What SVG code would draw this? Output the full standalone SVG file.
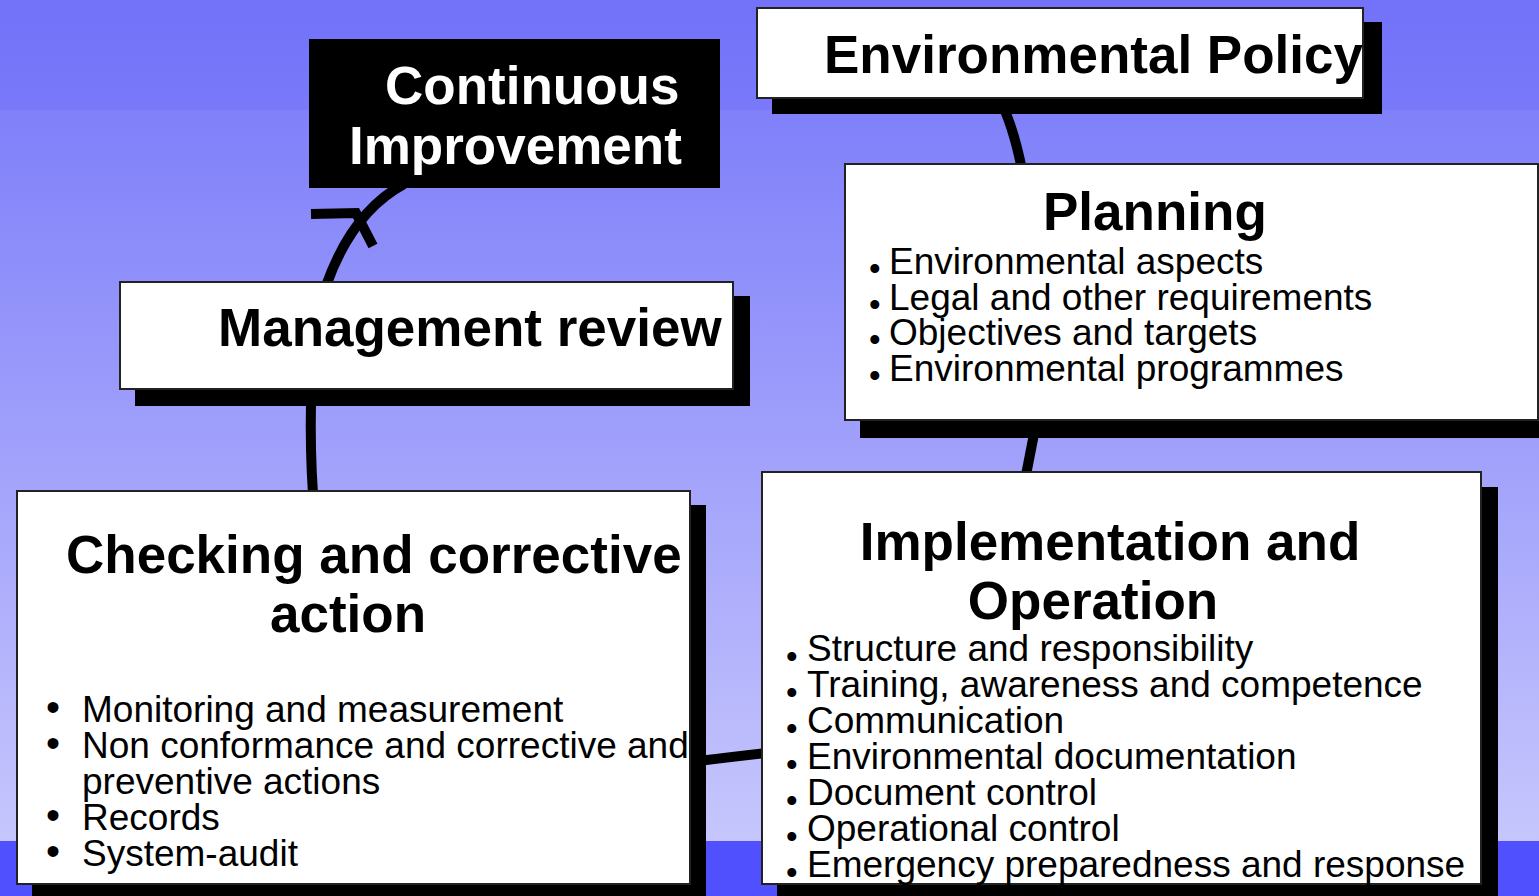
<svg xmlns="http://www.w3.org/2000/svg" width="1539" height="896" viewBox="0 0 1539 896">
<defs>
<linearGradient id="bgTop" x1="0" y1="0" x2="0" y2="1">
<stop offset="0" stop-color="#7272fa"/>
<stop offset="1" stop-color="#7979fa"/>
</linearGradient>
<linearGradient id="bgMain" x1="0" y1="0" x2="0" y2="1">
<stop offset="0" stop-color="#8080fa"/>
<stop offset="1" stop-color="#c6c6fd"/>
</linearGradient>
<style>
.box{fill:#fff;stroke:#222;stroke-width:2}
.shadow{fill:#000}
.title{font-family:"Liberation Sans",Arial,sans-serif;font-weight:bold;font-size:53px;fill:#000}
.wt{fill:#fff}
.item{font-family:"Liberation Sans",Arial,sans-serif;font-size:37px;fill:#000}
.dot{font-size:33px}
.bul{font-size:40px}
.conn{fill:none;stroke:#000;stroke-width:10}
</style>
</defs>
<rect x="0" y="0" width="1539" height="110" fill="url(#bgTop)"/>
<rect x="0" y="110" width="1539" height="731" fill="url(#bgMain)"/>
<rect x="0" y="841" width="1539" height="55" fill="#5050ff"/>

<g id="connectors">
<path class="conn" d="M326 286 Q352 212 404 184"/>
<polyline class="conn" points="311,214 356,213 373,246" stroke-linejoin="miter"/>
<path class="conn" d="M998 96 Q1013 124 1022 170"/>
<path class="conn" d="M1034 434 L1026 475"/>
<path class="conn" d="M698 761 Q730 757 766 753"/>
<path class="conn" d="M311 402 Q310 450 313 494"/>
</g>

<g id="continuous-improvement">
<rect x="309" y="39" width="411" height="149" fill="#000"/>
<text class="title wt" x="385" y="104">Continuous</text>
<text class="title wt" x="349" y="164">Improvement</text>
</g>

<g id="environmental-policy">
<rect class="shadow" x="772" y="22" width="610" height="92"/>
<rect class="box" x="757" y="8" width="606" height="90"/>
<text class="title" x="824" y="73">Environmental Policy</text>
</g>

<g id="planning">
<rect class="shadow" x="860" y="180" width="690" height="258"/>
<rect class="box" x="845" y="164" width="693" height="256"/>
<text class="title" x="1043" y="230">Planning</text>
<text class="item"><tspan class="dot" x="869" y="280">•</tspan><tspan x="889" y="274">Environmental aspects</tspan></text>
<text class="item"><tspan class="dot" x="869" y="316">•</tspan><tspan x="889" y="310">Legal and other requirements</tspan></text>
<text class="item"><tspan class="dot" x="869" y="351">•</tspan><tspan x="889" y="345">Objectives and targets</tspan></text>
<text class="item"><tspan class="dot" x="869" y="387">•</tspan><tspan x="889" y="381">Environmental programmes</tspan></text>
</g>

<g id="management-review">
<rect class="shadow" x="135" y="296" width="615" height="110"/>
<rect class="box" x="120" y="282" width="613" height="107"/>
<text class="title" x="218" y="346">Management review</text>
</g>

<g id="checking">
<rect class="shadow" x="32" y="505" width="674" height="400"/>
<rect class="box" x="17" y="491" width="673" height="393"/>
<text class="title" x="66" y="573">Checking and corrective</text>
<text class="title" x="348" y="632" text-anchor="middle">action</text>
<text class="item"><tspan class="bul" x="46" y="721">•</tspan><tspan x="82" y="722">Monitoring and measurement</tspan></text>
<text class="item"><tspan class="bul" x="46" y="757">•</tspan><tspan x="82" y="758">Non conformance and corrective and</tspan></text>
<text class="item" x="82" y="794">preventive actions</text>
<text class="item"><tspan class="bul" x="46" y="829">•</tspan><tspan x="82" y="830">Records</tspan></text>
<text class="item"><tspan class="bul" x="46" y="865">•</tspan><tspan x="82" y="866">System-audit</tspan></text>
</g>

<g id="implementation">
<rect class="shadow" x="777" y="487" width="721" height="420"/>
<rect class="box" x="762" y="472" width="719" height="412"/>
<text class="title" x="1110" y="560" text-anchor="middle">Implementation and</text>
<text class="title" x="1093" y="619" text-anchor="middle">Operation</text>
<text class="item"><tspan class="dot" x="786" y="668">•</tspan><tspan x="807" y="661">Structure and responsibility</tspan></text>
<text class="item"><tspan class="dot" x="786" y="704">•</tspan><tspan x="807" y="697">Training, awareness and competence</tspan></text>
<text class="item"><tspan class="dot" x="786" y="740">•</tspan><tspan x="807" y="733">Communication</tspan></text>
<text class="item"><tspan class="dot" x="786" y="776">•</tspan><tspan x="807" y="769">Environmental documentation</tspan></text>
<text class="item"><tspan class="dot" x="786" y="812">•</tspan><tspan x="807" y="805">Document control</tspan></text>
<text class="item"><tspan class="dot" x="786" y="848">•</tspan><tspan x="807" y="841">Operational control</tspan></text>
<text class="item"><tspan class="dot" x="786" y="884">•</tspan><tspan x="807" y="877">Emergency preparedness and response</tspan></text>
</g>
</svg>
